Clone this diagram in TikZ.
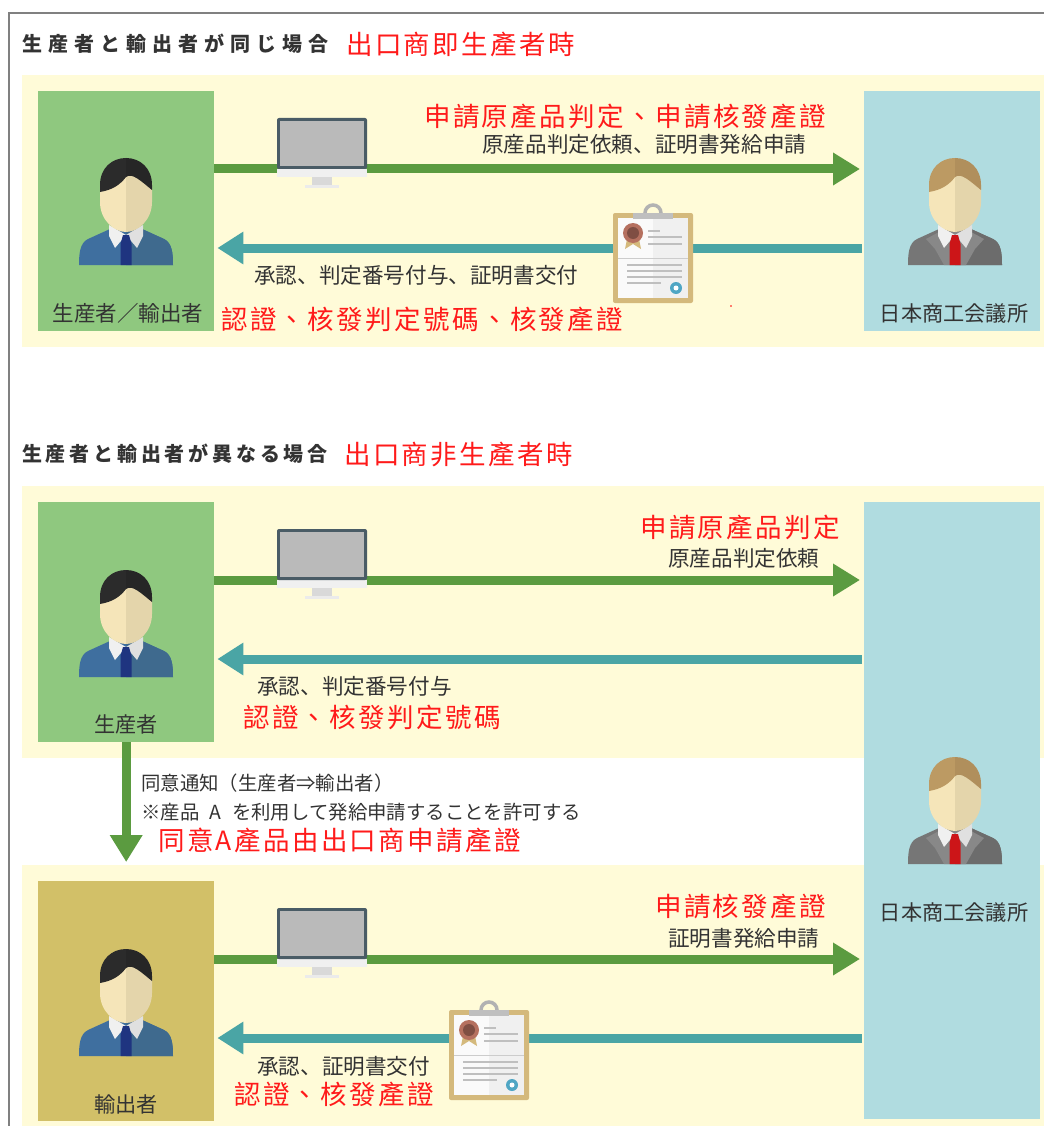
\documentclass[tikz,border=0pt]{standalone}
\usepackage{fontspec}
\usetikzlibrary{arrows.meta}
\setmainfont{Noto Sans CJK JP}
\newfontfamily\tcfont{Noto Sans CJK TC}
\definecolor{panelcol}{HTML}{FFFBD8}
\definecolor{greenbox}{HTML}{8FC87F}
\definecolor{bluebox}{HTML}{B0DCE0}
\definecolor{sandbox}{HTML}{D2C068}
\definecolor{greenline}{HTML}{5B9B40}
\definecolor{tealline}{HTML}{4AA5A5}
\definecolor{inktext}{HTML}{333333}
\definecolor{redtext}{HTML}{FF1A1A}
\tikzset{
  panel/.style = {fill = panelcol, anchor = north west, inner sep = 0, minimum width = 1022pt},
  actor/.style = {minimum width = 176pt, inner sep = 0, anchor = north west},
  blacklabel/.style = {anchor = west, inner sep = 0, text = inktext, font = \fontsize{#1}{#1}\selectfont},
  blacklabel/.default = 21.6,
  centerlabel/.style = {anchor = center, inner sep = 0, text = inktext, font = \fontsize{#1}{#1}\selectfont},
  centerlabel/.default = 21.2,
  redlabel/.style = {anchor = west, inner sep = 0, text = redtext,
    font = \fontsize{26.5}{27}\tcfont\addfontfeature{LetterSpace=9}},
  headlabel/.style = {anchor = west, inner sep = 0, text = inktext,
    font = \fontsize{20}{22}\bfseries\addfontfeature{LetterSpace=#1}},
  sendline/.style = {line width = 9pt, color = greenline, -{Triangle[length=27pt,width=31pt]}},
  backline/.style = {line width = 9pt, color = tealline, -{Triangle[length=26pt,width=31pt]}},
  pics/person/.style n args = {6}{code = {
    \fill[#3] (-47,107) .. controls (-47,95) and (-46,85) .. (-38,81) -- (-16,71) -- (16,71) -- (38,81)
      .. controls (46,85) and (47,95) .. (47,107) -- cycle;
    \begin{scope}
      \clip (0,0) rectangle (50,110);
      \fill[#4] (-47,107) .. controls (-47,95) and (-46,85) .. (-38,81) -- (-16,71) -- (16,71) -- (38,81)
        .. controls (46,85) and (47,95) .. (47,107) -- cycle;
    \end{scope}
    \fill[#5] (-16,74) -- (-29,81) -- (-20,91) -- (-11,107) -- (11,107) -- (20,91) -- (29,81) -- (16,74) -- cycle;
    \fill[white!94!black] (-17,67) -- (0,77) -- (-11,90) -- (-17,78) -- cycle;
    \fill[white!88!black] (17,67) -- (0,77) -- (11,90) -- (17,78) -- cycle;
    \fill[#6] (-3,77) -- (3,77) -- (5.5,86) -- (5.5,107) -- (-5.5,107) -- (-5.5,86) -- cycle;
    \fill[headskin] (-26,25) -- (-26,44) .. controls (-26,62) and (-12,74) .. (0,74) -- (0,15) -- cycle;
    \fill[headshade] (26,25) -- (26,44) .. controls (26,62) and (12,74) .. (0,74) -- (0,15) -- cycle;
    \fill[#1] (-26,34) -- (-26,27) .. controls (-26,10) and (-14,0) .. (0,0) -- (0,19)
      .. controls (-6,27) and (-14,32) .. (-26,34) -- cycle;
    \fill[#2] (26,32) -- (26,27) .. controls (26,10) and (14,0) .. (0,0) -- (0,19)
      .. controls (6,14) and (16,24) .. (26,32) -- cycle;
  }},
  pics/monitor/.style = {code = {
    \fill[black!15] (35,59) rectangle (55,67);
    \fill[black!8] (28,67) rectangle (62,70);
    \fill[black!6] (0,51) rectangle (90,59);
    \fill[framecol, rounded corners = 2pt] (0,0) rectangle (90,51);
    \fill[black!27] (3,3) rectangle (87,48);
  }},
  pics/clipboard/.style = {code = {
    \draw[black!30, line width = 3.5pt] (40,0) circle[radius = 8];
    \fill[boardcol, rounded corners = 2pt] (0,0) rectangle (80,90);
    \fill[black!2] (5,5) rectangle (40,85);
    \fill[black!6] (40,5) rectangle (75,85);
    \fill[black!25] (20,0) rectangle (60,6);
    \fill[boardcol] (14,26) -- (26,26) -- (28,36) -- (20,31) -- (12,36) -- cycle;
    \fill[sealcol] (20,20) circle[radius = 10];
    \fill[sealcol!70!black] (20,20) circle[radius = 6];
    \draw[black!25, line width = 1.5pt] (35,18) -- (47,18) (35,24) -- (69,24) (35,31) -- (69,31);
    \draw[black!20, line width = 1pt] (5,45) -- (75,45);
    \draw[black!25, line width = 1.5pt] (14,52) -- (69,52) (14,58) -- (69,58) (14,64) -- (69,64) (14,70) -- (48,70);
    \fill[badgecol] (63,75) circle[radius = 6];
    \fill[white] (63,75) circle[radius = 2.5];
  }}
}
\definecolor{headskin}{HTML}{F5E5B9}
\definecolor{headshade}{HTML}{E4D5AB}
\definecolor{framecol}{HTML}{4A5C66}
\definecolor{boardcol}{HTML}{D4B97C}
\definecolor{sealcol}{HTML}{B5705F}
\definecolor{badgecol}{HTML}{4FA6C4}
\definecolor{hairdark}{HTML}{2B2B2B}
\definecolor{hairdarkb}{HTML}{262626}
\definecolor{suitblue}{HTML}{3F6F9F}
\definecolor{suitblueb}{HTML}{3F6A8E}
\definecolor{tieblue}{HTML}{1F3480}
\definecolor{hairtan}{HTML}{BC9A63}
\definecolor{hairtanb}{HTML}{B08F5C}
\definecolor{suitgray}{HTML}{767676}
\definecolor{suitgrayb}{HTML}{6C6C6C}
\definecolor{lapelgray}{HTML}{888888}
\definecolor{tiered}{HTML}{CC1518}
\newcommand{\workerpic}[1]{\pic at (126,#1) {person = {hairdark}{hairdarkb}{suitblue}{suitblueb}{fill opacity = 0}{tieblue}};}
\newcommand{\officerpic}[1]{\pic at (955,#1) {person = {hairtan}{hairtanb}{suitgray}{suitgrayb}{lapelgray}{tiered}};}
\begin{document}
\begin{tikzpicture}[x = 1pt, y = -1pt]
  \useasboundingbox (0,0) rectangle (1044,1126);
  \draw[black!50, line width = 1.5pt] (9,1126) -- (9,13) -- (1044,13);

  \node[panel, minimum height = 272pt] (panela) at (22,75) {};
  \node[panel, minimum height = 272pt] (panelb) at (22,486) {};
  \node[panel, minimum height = 261pt] (panelc) at (22,865) {};

  \node[actor, fill = greenbox, minimum height = 240pt] (prodexp) at (38,91) {};
  \node[actor, fill = bluebox, minimum height = 240pt] (jcca) at (864,91) {};
  \node[actor, fill = greenbox, minimum height = 240pt] (prod) at (38,502) {};
  \node[actor, fill = sandbox, minimum height = 240pt] (expo) at (38,881) {};
  \node[actor, fill = bluebox, minimum height = 617pt] (jccb) at (864,502) {};

  \coordinate (rowa) at (0,169);
  \coordinate (rowb) at (0,248);
  \coordinate (rowc) at (0,580);
  \coordinate (rowd) at (0,659);
  \coordinate (rowe) at (0,959);
  \coordinate (rowf) at (0,1038);

  \draw[sendline, shorten > = 4pt] (prodexp.east |- rowa) -- (jcca.west |- rowa);
  \draw[backline, shorten < = 2pt, shorten > = 3pt] (jcca.west |- rowb) -- (prodexp.east |- rowb);
  \draw[sendline, shorten > = 4pt] (prod.east |- rowc) -- (jccb.west |- rowc);
  \draw[backline, shorten < = 2pt, shorten > = 3pt] (jccb.west |- rowd) -- (prod.east |- rowd);
  \draw[sendline, shorten > = 19pt] (prod.south) -- (expo.north);
  \draw[sendline, shorten > = 4pt] (expo.east |- rowe) -- (jccb.west |- rowe);
  \draw[backline, shorten < = 2pt, shorten > = 3pt] (jccb.west |- rowf) -- (expo.east |- rowf);

  \workerpic{158}
  \workerpic{570}
  \workerpic{949}
  \officerpic{158}
  \officerpic{757}
  \pic at (277,118) {monitor};
  \pic at (277,529) {monitor};
  \pic at (277,908) {monitor};
  \pic at (613,213) {clipboard};
  \pic at (449,1010) {clipboard};
  \fill[red] (731,306) circle[radius = 0.8];

  \node[headlabel = 30] (titlea) at (22,44) {生産者と輸出者が同じ場合};
  \node[redlabel] (redtitlea) at (346,44) {出口商即生產者時};
  \node[redlabel] (reqa) at (424,116) {申請原產品判定、申請核發產證};
  \node[blacklabel] (reqjpa) at (482,144) {原産品判定依頼、証明書発給申請};
  \node[blacklabel] (ansjpa) at (254,275) {承認、判定番号付与、証明書交付};
  \node[redlabel] (ansa) at (221,319) {認證、核發判定號碼、核發產證};
  \node[centerlabel = 21.5] (prodexplabel) at (128,313) {生産者／輸出者};
  \node[centerlabel] (jccalabel) at (954,314) {日本商工会議所};

  \node[headlabel = 19] (titleb) at (22,454) {生産者と輸出者が異なる場合};
  \node[redlabel] (redtitleb) at (344,454) {出口商非生產者時};
  \node[redlabel] (reqb) at (640,527) {申請原產品判定};
  \node[blacklabel] (reqjpb) at (668,558) {原産品判定依頼};
  \node[blacklabel] (ansjpb) at (257,686) {承認、判定番号付与};
  \node[redlabel] (ansb) at (243,717) {認證、核發判定號碼};
  \node[centerlabel] (prodlabel) at (126,724) {生産者};

  \node[blacklabel = 19.4] (agreea) at (141,783) {同意通知（生産者⇒輸出者）};
  \node[blacklabel = 19.4] (agreeb) at (141,812) {※産品\hspace{10.5pt}A\hspace{10.5pt}を利用して発給申請することを許可する};
  \node[redlabel] (agreec) at (158,840) {同意A產品由出口商申請產證};

  \node[redlabel] (reqc) at (655,906) {申請核發產證};
  \node[blacklabel] (reqjpc) at (668,938) {証明書発給申請};
  \node[blacklabel] (ansjpc) at (257,1066) {承認、証明書交付};
  \node[redlabel] (ansc) at (234,1094) {認證、核發產證};
  \node[centerlabel] (expolabel) at (126,1104) {輸出者};
  \node[centerlabel] (jccblabel) at (954,912) {日本商工会議所};
\end{tikzpicture}
\end{document}
